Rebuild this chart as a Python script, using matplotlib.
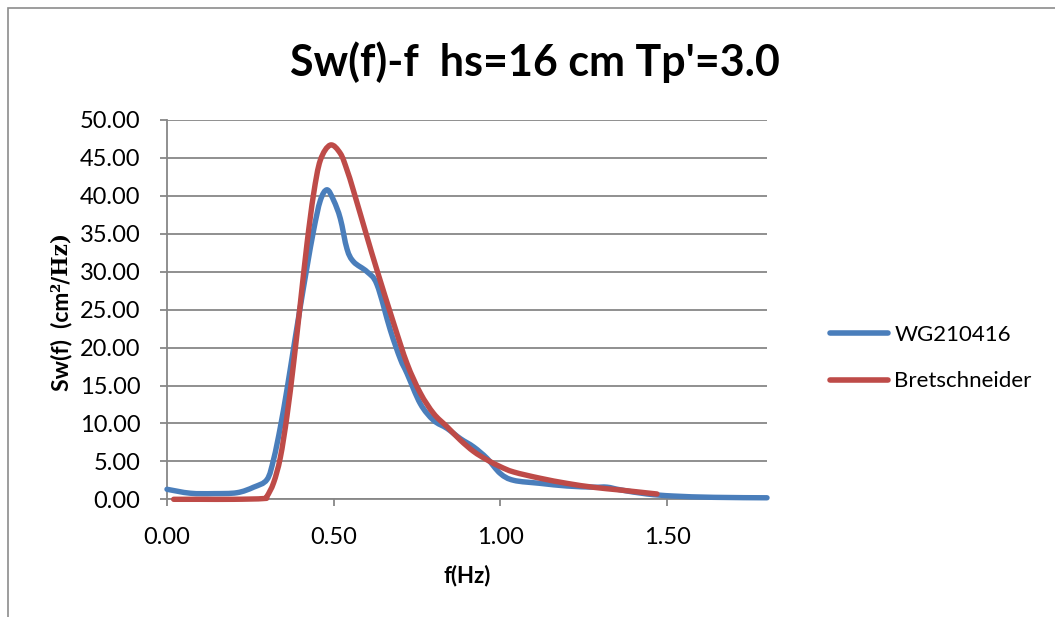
import matplotlib
matplotlib.use("Agg")
import matplotlib.pyplot as plt
from matplotlib.patches import Rectangle, PathPatch
from matplotlib.path import Path
from matplotlib.lines import Line2D

# ---- data ----
wg_f = [0.00, 0.07, 0.14, 0.21, 0.26, 0.30, 0.32, 0.34, 0.36, 0.38, 0.40, 0.42, 0.44,
        0.46, 0.48, 0.50, 0.52, 0.54, 0.56, 0.60, 0.63, 0.67, 0.70, 0.72, 0.76, 0.80,
        0.84, 0.88, 0.92, 0.96, 1.00, 1.04, 1.12, 1.20, 1.28, 1.32, 1.36, 1.44, 1.52,
        1.64, 1.80]
wg_s = [1.32, 0.80, 0.75, 0.87, 1.60, 2.60, 5.30, 9.50, 14.5, 20.0, 25.4, 30.6, 35.5,
        39.4, 40.8, 39.4, 37.0, 33.0, 31.3, 30.0, 28.3, 22.3, 18.5, 16.6, 12.6, 10.4,
        9.35, 8.0, 6.9, 5.4, 3.4, 2.5, 2.1, 1.75, 1.6, 1.6, 1.25, 0.70, 0.43,
        0.26, 0.20]

br_f = [0.02, 0.10, 0.20, 0.29, 0.30, 0.32, 0.34, 0.36, 0.38, 0.40, 0.42, 0.44, 0.46,
        0.49, 0.52, 0.54, 0.56, 0.60, 0.63, 0.68, 0.72, 0.76, 0.80, 0.84, 0.88, 0.92,
        0.96, 1.00, 1.04, 1.12, 1.20, 1.28, 1.36, 1.47]
br_s = [0.0, 0.0, 0.0, 0.1, 0.4, 2.2, 5.5, 11.0, 18.0, 25.8, 33.7, 40.3, 44.7,
        46.7, 45.6, 43.4, 40.6, 34.6, 30.2, 23.2, 17.9, 14.0, 11.3, 9.57, 7.8, 6.3,
        5.2, 4.3, 3.6, 2.77, 2.1, 1.58, 1.22, 0.70]

x_ticks = [0.0, 0.5, 1.0, 1.5]
y_ticks = [0, 5, 10, 15, 20, 25, 30, 35, 40, 45, 50]
series_names = ["WG210416", "Bretschneider"]
title = "Sw(f)-f  hs=16 cm Tp'=3.0"

FONT = "Lato"
BLUE = "#4A7EBB"
RED = "#BE4B48"
GRID = "#878787"


def smooth_path(xs, ys):
    """Excel-like smoothed line: Catmull-Rom through the data points as Bezier curves."""
    pts = list(zip(xs, ys))
    verts = [pts[0]]
    codes = [Path.MOVETO]
    n = len(pts)
    for i in range(n - 1):
        p0 = pts[i - 1] if i > 0 else pts[i]
        p1 = pts[i]
        p2 = pts[i + 1]
        p3 = pts[i + 2] if i + 2 < n else pts[i + 1]
        c1 = (p1[0] + (p2[0] - p0[0]) / 6, p1[1] + (p2[1] - p0[1]) / 6)
        c2 = (p2[0] - (p3[0] - p1[0]) / 6, p2[1] - (p3[1] - p1[1]) / 6)
        verts += [c1, c2, p2]
        codes += [Path.CURVE4] * 3
    return Path(verts, codes)


fig = plt.figure(figsize=(10.55, 6.17), dpi=100)
fig.patch.set_facecolor("white")
W, H = 1055, 617

# chart border
fig.add_artist(Rectangle((8 / W, -0.1), 1.2, 1 - 8 / H + 0.1, transform=fig.transFigure,
                         fill=False, edgecolor="#8c8c8c", linewidth=1.2))

ax = fig.add_axes([167 / W, 1 - 499.3 / H, (767 - 167) / W, (499.3 - 120) / H])
for xs, ys, col, z in [(wg_f, wg_s, BLUE, 3), (br_f, br_s, RED, 4)]:
    patch = PathPatch(smooth_path(xs, ys), facecolor="none", edgecolor=col, lw=3.9,
                      joinstyle="round", capstyle="round", zorder=z, clip_on=False)
    ax.add_patch(patch)

ax.set_xlim(0, 1.8)
ax.set_ylim(0, 50)
ax.set_xticks(x_ticks)
ax.set_xticklabels([f"{v:.2f}" for v in x_ticks])
ax.set_yticks(y_ticks)
ax.set_yticklabels([f"{v:.2f}" for v in y_ticks])
ax.grid(axis="y", color=GRID, lw=1.3)
ax.set_axisbelow(True)
for s in ["top", "right"]:
    ax.spines[s].set_visible(False)
for s in ["left", "bottom"]:
    ax.spines[s].set_color(GRID)
    ax.spines[s].set_linewidth(1.3)
ax.tick_params(axis="both", direction="out", length=5, width=1.3, color=GRID,
               labelsize=17)
ax.tick_params(axis="y", pad=14)
ax.tick_params(axis="x", pad=15)
for lab in ax.get_xticklabels() + ax.get_yticklabels():
    lab.set_fontfamily(FONT)
    lab.set_color("black")

ax.set_xlabel("f(Hz)", fontfamily=FONT, fontweight="bold", fontsize=16, labelpad=12)

fig.text(535 / W, 1 - 62 / H, title, ha="center", va="center", fontfamily=FONT,
         fontweight="bold", fontsize=31)

# y label: two parts (sans + serif) like the reference
t1 = fig.text(61 / W, 1 - 391 / H, "Sw(f)  (cm", rotation=90, rotation_mode="anchor",
              ha="left", va="center", fontfamily=FONT, fontweight="bold", fontsize=16.5)
fig.canvas.draw()
bb = t1.get_window_extent(renderer=fig.canvas.get_renderer())
fig.text(61 / W, bb.y1 / H, "²/Hz)", rotation=90, rotation_mode="anchor",
         ha="left", va="center", fontfamily=["DejaVu Serif"], fontweight="bold", fontsize=15.5)

handles = [Line2D([], [], color=BLUE, lw=4, solid_capstyle="round"),
           Line2D([], [], color=RED, lw=4, solid_capstyle="round")]
leg = ax.legend(handles, series_names, loc="center left",
                bbox_to_anchor=(810 / W, 1 - 358 / H),
                bbox_transform=fig.transFigure, frameon=False,
                prop={"family": FONT, "size": 16}, handlelength=2.6,
                handletextpad=0.3, labelspacing=1.2)

fig.savefig("out.png", dpi=100, facecolor="white")
